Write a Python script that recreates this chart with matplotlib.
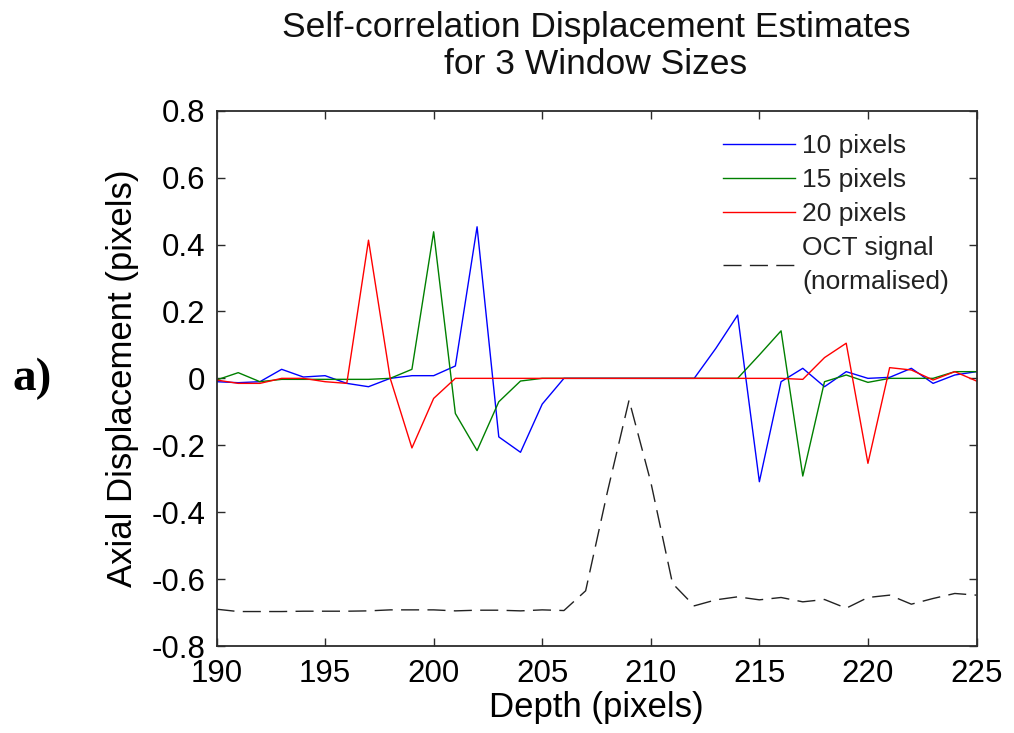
import numpy as np
import matplotlib
matplotlib.use("Agg")
import matplotlib.pyplot as plt

# depth axis (pixels)
depth = np.arange(190, 226)

# displacement estimates for each correlation window size
disp_10 = [-0.010, -0.013, -0.010, 0.027, 0.004, 0.008, -0.015, -0.025, 0.000, 0.008,
           0.008, 0.037, 0.453, -0.175, -0.221, -0.077, 0.000, 0.000, 0.000, 0.000,
           0.000, 0.000, 0.000, 0.090, 0.189, -0.309, -0.010, 0.030, -0.025, 0.020,
           0.000, 0.003, 0.030, -0.015, 0.010, 0.020]
disp_15 = [-0.005, 0.017, -0.010, -0.003, -0.003, -0.003, -0.003, -0.003, 0.000, 0.027,
           0.438, -0.105, -0.216, -0.070, -0.008, 0.000, 0.000, 0.000, 0.000, 0.000,
           0.000, 0.000, 0.000, 0.000, 0.000, 0.070, 0.142, -0.292, -0.010, 0.010,
           -0.012, 0.000, 0.000, 0.000, 0.020, 0.020]
disp_20 = [-0.005, -0.015, -0.015, 0.000, 0.000, -0.010, -0.015, 0.413, 0.000, -0.208,
           -0.060, 0.000, 0.000, 0.000, 0.000, 0.000, 0.000, 0.000, 0.000, 0.000,
           0.000, 0.000, 0.000, 0.000, 0.000, 0.000, 0.000, -0.003, 0.062, 0.105,
           -0.254, 0.032, 0.025, -0.005, 0.020, -0.008]
# OCT intensity, normalised and shifted
oct_signal = [-0.690, -0.697, -0.697, -0.697, -0.696, -0.696, -0.696, -0.695, -0.692, -0.692,
              -0.692, -0.695, -0.693, -0.693, -0.695, -0.692, -0.694, -0.635, -0.340, -0.065,
              -0.310, -0.613, -0.680, -0.662, -0.653, -0.662, -0.655, -0.668, -0.661, -0.687,
              -0.655, -0.648, -0.675, -0.658, -0.643, -0.648]

labels = ["10 pixels", "15 pixels", "20 pixels", "OCT signal\n(normalised)"]
xticks = [190, 195, 200, 205, 210, 215, 220, 225]
yticks = [-0.8, -0.6, -0.4, -0.2, 0, 0.2, 0.4, 0.6, 0.8]

plt.rcParams['font.family'] = ['Liberation Sans', 'DejaVu Sans']

W, H = 1014, 733
fig = plt.figure(figsize=(W / 100, H / 100), dpi=100)
ax_l, ax_r, ax_t, ax_b = 216.5, 976.5, 110.7, 646.0
ax = fig.add_axes([ax_l / W, 1 - ax_b / H, (ax_r - ax_l) / W, (ax_b - ax_t) / H])

ax.plot(depth, disp_10, color=(0, 0, 1), lw=1.0, label=labels[0])
ax.plot(depth, disp_15, color=(0, 0.5, 0), lw=1.0, label=labels[1])
ax.plot(depth, disp_20, color=(1, 0, 0), lw=1.0, label=labels[2])
ax.plot(depth, oct_signal, color='#222222', lw=1.0, dashes=(13, 6), label=labels[3])

ax.set_xlim(190, 225)
ax.set_ylim(-0.8, 0.8)
ax.set_xticks(xticks)
ax.set_yticks(yticks)
ax.set_yticklabels(['%g' % v for v in yticks])

for s in ax.spines.values():
    s.set_color('#2b2b2b')
    s.set_linewidth(1.3)
ax.tick_params(direction='in', top=True, right=True, length=5.5, width=1.0,
               color='#2b2b2b', labelsize=22.5)
ax.tick_params(axis='x', pad=9)
ax.tick_params(axis='y', pad=8)

ax.set_xlabel("Depth (pixels)", fontsize=25, va='baseline')
ax.xaxis.set_label_coords(0.5, (ax_b - 717) / (ax_b - ax_t))
ax.set_ylabel("Axial Displacement (pixels)", fontsize=25, va='center', ha='center')
ax.yaxis.set_label_coords((122.5 - ax_l) / (ax_r - ax_l), 0.5)

leg = ax.legend(loc='upper left',
                bbox_to_anchor=((723 - ax_l) / (ax_r - ax_l), (ax_b - 134) / (ax_b - ax_t)),
                frameon=False, fontsize=19, handlelength=2.73, handletextpad=0.27,
                labelspacing=0.38, borderpad=0, borderaxespad=0)
for t in leg.get_texts():
    t.set_linespacing(1.5)
    t.set_color('#222222')

# two-line title
fig.text(596 / W, 1 - 37.3 / H, "Self-correlation Displacement Estimates",
         ha='center', va='baseline', fontsize=25.5, color='#111111')
fig.text(596 / W, 1 - 74 / H, "for 3 Window Sizes",
         ha='center', va='baseline', fontsize=25.5, color='#111111')
fig.text(32 / W, 1 - 379 / H, "a)", family='Liberation Serif', fontweight='bold',
         fontsize=34, ha='center', va='center')

fig.savefig("out.png", dpi=100)
